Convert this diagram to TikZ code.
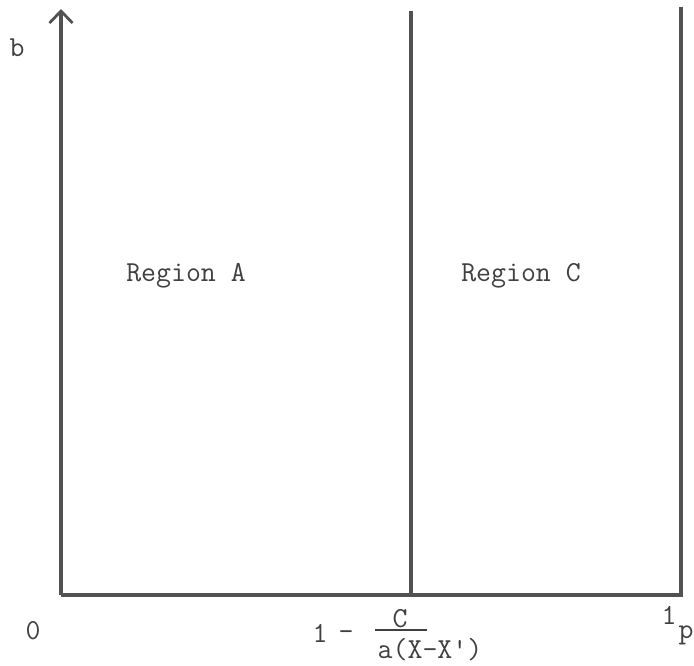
\documentclass[tikz,border=0pt]{standalone}
\usepackage{fontspec}
\usetikzlibrary{arrows.meta}
\begin{document}
\begin{tikzpicture}[x=1pt,y=-1pt,
  axis/.style={draw=black!68, line width=3.1pt},
  lbl/.style={font=\ttfamily\fontsize{29}{29}\selectfont, text=black!75, inner sep=0pt}]
\useasboundingbox (0,0) rectangle (694,665);
\coordinate (O) at (61,595);
\coordinate (ytop) at (61,9);
\coordinate (xend) at (681,595);
\coordinate (rtop) at (681,7);
\coordinate (mbot) at (411,595);
\coordinate (mtop) at (411,11);
\draw[axis, -{Straight Barb[length=12pt,width=23pt,line width=2.8pt]}] (O) -- (ytop);
\draw[axis, line join=miter] (O) -- (xend) -- (rtop);
\draw[axis] (mbot) -- (mtop);
\node[lbl] (b) at (17,48) {b};
\node[lbl] (zero) at (33,631) {0};
\node[lbl] (one) at (320,633) {1};
\node[lbl] (minus) at (346,636) {-};
\node[lbl] (num) at (400,619) {C};
\draw[draw=black!75, line width=1.6pt] (375,630) -- (427,630);
\node[lbl] (den) at (430,650) {a(X-X')};
\node[lbl] (onep) at (669,615) {1};
\node[lbl] (p) at (686,635) {p};
\node[lbl] (ra) at (186,276) {Region A};
\node[lbl] (rc) at (521,276) {Region C};
\end{tikzpicture}
\end{document}
